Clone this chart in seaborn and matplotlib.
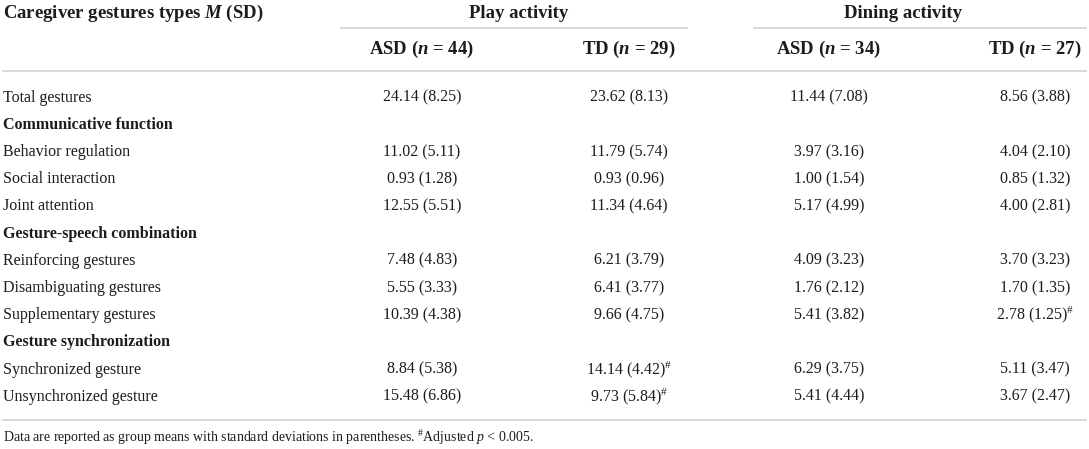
import matplotlib
matplotlib.use("Agg")
import matplotlib.pyplot as plt
import seaborn as sns
import pandas as pd

# Table content
activities = ["Play activity", "Dining activity"]
groups = ["ASD", "TD", "ASD", "TD"]
group_n = [44, 29, 34, 27]

row_labels = [
    "Total gestures",
    "Communicative function",
    "Behavior regulation",
    "Social interaction",
    "Joint attention",
    "Gesture-speech combination",
    "Reinforcing gestures",
    "Disambiguating gestures",
    "Supplementary gestures",
    "Gesture synchronization",
    "Synchronized gesture",
    "Unsynchronized gesture",
]
section_rows = ["Communicative function", "Gesture-speech combination", "Gesture synchronization"]

play_asd_mean = [24.14, None, 11.02, 0.93, 12.55, None, 7.48, 5.55, 10.39, None, 8.84, 15.48]
play_asd_sd = [8.25, None, 5.11, 1.28, 5.51, None, 4.83, 3.33, 4.38, None, 5.38, 6.86]
play_td_mean = [23.62, None, 11.79, 0.93, 11.34, None, 6.21, 6.41, 9.66, None, 14.14, 9.73]
play_td_sd = [8.13, None, 5.74, 0.96, 4.64, None, 3.79, 3.77, 4.75, None, 4.42, 5.84]
dine_asd_mean = [11.44, None, 3.97, 1.00, 5.17, None, 4.09, 1.76, 5.41, None, 6.29, 5.41]
dine_asd_sd = [7.08, None, 3.16, 1.54, 4.99, None, 3.23, 2.12, 3.82, None, 3.75, 4.44]
dine_td_mean = [8.56, None, 4.04, 0.85, 4.00, None, 3.70, 1.70, 2.78, None, 5.11, 3.67]
dine_td_sd = [3.88, None, 2.10, 1.32, 2.81, None, 3.23, 1.35, 1.25, None, 3.47, 2.47]

# (row label, column index) with adjusted p < 0.005
significant = [
    ("Supplementary gestures", 3),
    ("Synchronized gesture", 1),
    ("Unsynchronized gesture", 1),
]

footnote = "Data are reported as group means with standard deviations in parentheses. "

means = [play_asd_mean, play_td_mean, dine_asd_mean, dine_td_mean]
sds = [play_asd_sd, play_td_sd, dine_asd_sd, dine_td_sd]

cells = {}
for c, (m_col, s_col) in enumerate(zip(means, sds)):
    col = []
    for label, m, s in zip(row_labels, m_col, s_col):
        if m is None:
            col.append("")
            continue
        txt = f"{m:.2f} ({s:.2f})"
        if (label, c) in significant:
            txt += r"$^{\#}$"
        col.append(txt)
    cells[c] = col
df = pd.DataFrame(cells, index=row_labels)

# Style
sns.set_theme(style="white")
plt.rcParams["font.family"] = ["Liberation Serif", "DejaVu Serif"]
plt.rcParams["mathtext.fontset"] = "custom"
plt.rcParams["mathtext.rm"] = "Liberation Serif"
plt.rcParams["mathtext.it"] = "Liberation Serif:italic"
plt.rcParams["mathtext.bf"] = "Liberation Serif:bold"
plt.rcParams["mathtext.bfit"] = "Liberation Serif:italic:bold"

text_col = "#1c1c1c"
rule_col = "#d2d2d2"

W, H = 1089, 449
fig = plt.figure(figsize=(W / 100, H / 100), dpi=100)
ax = fig.add_axes([0, 0, 1, 1])
ax.set_xlim(0, W)
ax.set_ylim(H, 0)
ax.axis("off")

label_x = 3
col_x = [422, 629, 829, 1035]
row_y0 = 97.5
row_step = 27.2

body_fs = 11.5
head_fs = 13.5

# Header
ax.text(label_x, 13, r"Caregiver gestures types $\mathbfit{M}$ (SD)", fontsize=head_fs,
        fontweight="bold", ha="left", va="center", color=text_col)
act_x = [519, 903]
for x, name in zip(act_x, activities):
    ax.text(x, 13, name, fontsize=head_fs, fontweight="bold", ha="center", va="center", color=text_col)
ax.plot([340, 688], [28, 28], color=rule_col, lw=1.2, solid_capstyle="butt")
ax.plot([753, 1087], [28, 28], color=rule_col, lw=1.2, solid_capstyle="butt")

for x, g, n in zip(col_x, groups, group_n):
    ax.text(x, 49, rf"{g} ($\mathbfit{{n}}$ = {n})", fontsize=head_fs, fontweight="bold",
            ha="center", va="center", color=text_col)
ax.plot([2, 1087], [71, 71], color=rule_col, lw=1.2, solid_capstyle="butt")

# Body
for i, label in enumerate(df.index):
    y = row_y0 + i * row_step
    bold = label in section_rows
    ax.text(label_x, y, label, fontsize=body_fs, fontweight="bold" if bold else "normal",
            ha="left", va="center", color=text_col)
    for c in df.columns:
        txt = df.loc[label, c]
        if txt:
            ax.text(col_x[c], y, txt, fontsize=body_fs, ha="center", va="center", color=text_col)

ax.plot([2, 1087], [420, 420], color=rule_col, lw=1.2, solid_capstyle="butt")

ax.text(label_x, 438, footnote + r"$^{\#}$Adjusted $p$ < 0.005.", fontsize=10,
        ha="left", va="center", color=text_col)

fig.savefig("out.png", dpi=100, facecolor="white")
